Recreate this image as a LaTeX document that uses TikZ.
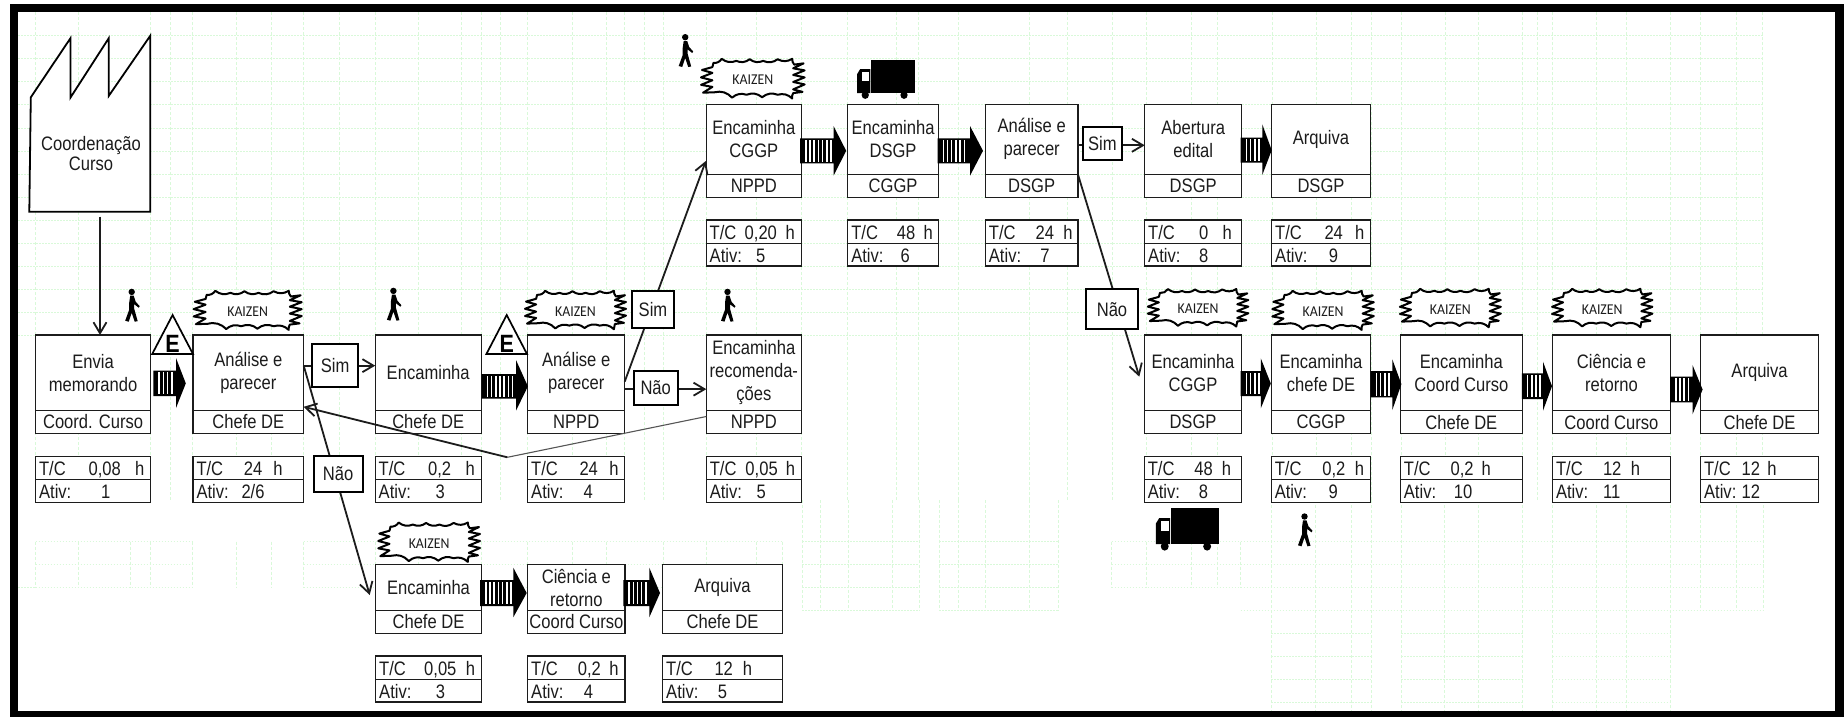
\documentclass[tikz,border=0pt]{standalone}
\usepackage{fontspec}
\setmainfont[FakeStretch=0.85]{Liberation Sans}
\newfontfamily\efont[FakeStretch=0.86]{Liberation Sans}
\newfontfamily\kzfont[FakeStretch=0.92]{Carlito}
\usetikzlibrary{arrows.meta,calc}
\definecolor{gridgreen}{HTML}{D9F9D9}
\definecolor{ink}{HTML}{1C1C1C}
\tikzset{
  proc/.style={draw=ink,fill=white,line width=1.2pt,inner sep=0pt,outer sep=0pt,anchor=north west,align=center,text=ink,font=\fontsize{19.5}{23}\selectfont},
  rowtext/.style={inner sep=0pt,outer sep=0pt,anchor=base west,text=ink,font=\fontsize{19.5}{23}\selectfont},
  decide/.style={draw=black,fill=white,line width=2pt,inner sep=0pt,outer sep=0pt,anchor=north west,text=ink,font=\fontsize{19.5}{23}\selectfont},
  conn/.style={line width=1.8pt,draw=ink},
  connarrow/.style={conn,-{Straight Barb[length=11pt,width=13pt,line width=1.8pt]}},
  gridv/.style={draw=gridgreen,line width=0.8pt,dash pattern=on 3pt off 2pt},
  gridh/.style={draw=gridgreen,line width=0.8pt,dash pattern=on 1.5pt off 1.5pt},
  burstline/.style={draw=black,fill=white,line width=2pt,line join=round},
  kztext/.style={inner sep=0pt,text=ink,font=\kzfont\fontsize{15}{15}\selectfont},
}
% process box: name, x1, x2, top, divider, bottom, text, label
\newcommand\procbox[8]{%
  \node[proc,minimum width={(#3-#2)*1pt},minimum height={(#5-#4)*1pt}] (#1) at (#2,#4) {#7};
  \node[proc,minimum width={(#3-#2)*1pt},minimum height={(#6-#5)*1pt}] (#1L) at (#2,#5) {#8};
}
% metrics box: name, x1, x2, top, mid, bottom, a, value, b, c, activity no
\newcommand\metrics[9]{%
  \node[proc,minimum width={(#3-#2)*1pt},minimum height={(#5-#4)*1pt}] (#1T) at (#2,#4) {};
  \node[proc,minimum width={(#3-#2)*1pt},minimum height={(#6-#5)*1pt}] (#1A) at (#2,#5) {};
  \node[rowtext] (#1Tt) at ($(#2+3.5,#4+19)$) {\rlap{T/C}\hspace*{#7pt}\rlap{#8}\hspace*{\dimexpr#9pt-#7pt\relax}h};
  \metricsB{#1}{#2}{#5}%
}
\newcommand\metricsB[5]{%
  \node[rowtext] (#1At) at ($(#2+3.5,#3+19)$) {\rlap{Ativ:}\hspace*{#4pt}#5};
}
\newcommand\push[7]{%
  \fill[black] (#1,#4) -- (#2,#4) -- (#2,#6) -- (#3,{(#4+#5)/2}) -- (#2,#7) -- (#2,#5) -- (#1,#5) -- cycle;
  \pgfmathsetmacro\xa{#1+5}\pgfmathsetmacro\xb{#1+9.2}\pgfmathsetmacro\xc{#2-2.5}
  \foreach \s in {\xa,\xb,...,\xc} {\fill[white] (\s,#4+1.6) rectangle (\s+1.5,#5-1.6);}
}
\newcommand\walker[2]{%
  \begin{scope}[shift={(#1-7,#2)}]
    \fill[black] (7,3.2) circle (3.2pt);
    \fill[black] (5.5,7) -- (9,7) -- (11,13) -- (15,17.5) -- (14,19) -- (9.5,15.5) -- (9.5,20) -- (13,32.5) -- (10,33) -- (7,24) -- (4,33) -- (0.5,32) -- (4.5,21) -- (4.5,14) -- cycle;
  \end{scope}
}
\newcommand\lorry[4]{%
  \pgfmathsetmacro\W{(#3-#1)/57}\pgfmathsetmacro\H{(#4-#2)/39}
  \begin{scope}[shift={(#1,#2)},x=\W pt,y=-\H pt]
    \fill[black] (14,0) rectangle (57,33);
    \fill[black] (0,33) -- (0,14) -- (3,9) -- (13,9) -- (13,33) -- cycle;
    \fill[white] (4.5,12) rectangle (11.5,20.5);
    \fill[black] (8,35) circle [x radius=3.6,y radius=3.9];
    \fill[black] (46.5,35) circle [x radius=3.6,y radius=3.9];
  \end{scope}
}
\newcommand\kaizen[5]{%
  \pgfmathsetmacro\W{#4-#2}\pgfmathsetmacro\H{#5-#3}
  \begin{scope}[shift={(#2,#3)},x=\W pt,y=-\H pt]
    \draw[burstline] (.12,.12)
      to[bend right=30] (.20,.02) to[bend right=30] (.34,.07) to[bend right=30] (.47,.03)
      to[bend right=30] (.60,.07) to[bend right=30] (.74,.03) to[bend right=30] (.88,.02)
      to[bend right=20] (.90,.16) -- (.99,.13) -- (.89,.25) -- (1,.30) -- (.89,.41) -- (1,.47)
      -- (.89,.58) -- (1,.64) -- (.89,.76) -- (.98,.82) -- (.89,.85)
      to[bend right=20] (.88,.98) to[bend right=30] (.74,.89) to[bend right=30] (.59,.95)
      to[bend right=30] (.44,.89) to[bend right=30] (.30,.96) to[bend right=30] (.13,.83)
      -- (.02,.84) -- (.11,.70) -- (0,.65) -- (.11,.54) -- (0,.47) -- (.11,.36) -- (.01,.29)
      -- (.11,.22) -- cycle;
    \node[kztext] (#1) at (.5,.53) {KAIZEN};
  \end{scope}
}
\newcommand\etri[3]{%
  \draw[black,fill=white,line width=1.7pt,line join=miter] (#2,354) -- (#3,354) -- ({(#2+#3)/2},315) -- cycle;
  \node[inner sep=0pt,anchor=base,font=\efont\bfseries\fontsize{25}{25}\selectfont] (#1) at ({(#2+#3)/2},352.5) {E};
}
\begin{document}
\begin{tikzpicture}[x=1pt,y=-1pt]
\useasboundingbox (0,0) rectangle (1847,716);
\fill[white] (0,0) rectangle (1847,716);
% background grid
\foreach \v in {35.6,78,150,170,192.5,236,271,303.6,339,375.5,418,461.7,481,500,527,572,606,624,644,663,706,756,801,847,896,918,958,1029,1067,1112,1146,1191,1217,1272,1316,1351,1371,1401,1445,1478,1522.3,1537.3,1552.7,1596.7,1626.7,1670.7,1700.7,1736.7,1762.7}
  {\draw[gridv] (\v,12) -- (\v,500);}
\foreach \h in {35,58,81,104,128,151,174,197,220,243,266,289,312,335}
  {\draw[gridh] (18,\h) -- (1762.7,\h);}
% lower grid blocks
\foreach \h in {541.7,564.3,587.3} {
  \draw[gridh] (35.6,\h) -- (192.5,\h);
  \draw[gridh] (303.6,\h) -- (782.7,\h);
}
\draw[gridh] (18,587.3) -- (35.6,587.3);
\foreach \v in {35.6,78,130,150,192.5,236,271,303.6,375.5,418,481,527,572,606,663,706,756,782.7}
  {\draw[gridv] (\v,541.7) -- (\v,587.3);}
\foreach \h in {541.7,564.3,587.3,610.3} {
  \draw[gridh] (802,\h) -- (918.9,\h);
  \draw[gridh] (939,\h) -- (1058.4,\h);
}
\foreach \v in {802,820,848,892,918.9,939,958,985.6,1029.7,1058.4}
  {\draw[gridv] (\v,500) -- (\v,610.3);}
\foreach \h in {541.7,564.3,587.3} {\draw[gridh] (1111.8,\h) -- (1762.9,\h);}
\draw[gridh] (1240.7,610.3) -- (1762.9,610.3);
\foreach \v in {1111.8,1146,1191,1217,1240.7}{\draw[gridv] (\v,541.7) -- (\v,587.3);}
\foreach \v in {1700.7,1736.7,1762.9}{\draw[gridv] (\v,500) -- (\v,610.3);}
\foreach \h in {633.3,656.3,679.3,702.3} {
  \draw[gridh] (1271.4,\h) -- (1371,\h);
  \draw[gridh] (1401,\h) -- (1522.5,\h);
  \draw[gridh] (1552.5,\h) -- (1670,\h);
}
\foreach \v in {1271.4,1315.5,1351.5,1371,1401,1444,1478,1522.5,1552.5,1596,1626.7,1670}
  {\draw[gridv] (\v,500) -- (\v,711);}
% frame
\draw[black,line width=8.3pt,line join=miter] (14.2,8) rectangle (1839.5,715);
% factory
\draw[black,fill=white,line width=1.8pt,line join=miter] (29.3,211.7) -- (30.8,97.3) -- (70.4,38.3) -- (70.4,97.7) -- (108.7,38.3) -- (108.7,96) -- (150.3,35.7) -- (150.3,211.7) -- cycle;
\node[inner sep=0pt,align=center,text=ink,font=\fontsize{19.5}{20.5}\selectfont] (factory) at (91,153.5) {Coordenação\\Curso};
\coordinate (factoryEnd) at (100,216.7);
% process boxes: lower main row
\procbox{envia}{35.6}{150.6}{335}{410.3}{433.7}{Envia\\memorando}{Coord. Curso}
\procbox{anA}{193}{303.7}{335}{410.3}{433.7}{Análise e\\parecer}{Chefe DE}
\procbox{encA}{375.2}{481.2}{335}{410.3}{433.7}{Encaminha}{Chefe DE}
\procbox{anB}{527.7}{624.7}{335}{410.3}{433.7}{Análise e\\parecer}{NPPD}
\procbox{rec}{706.3}{801.3}{335}{410.3}{433.7}{Encaminha\\recomenda-\\ções}{NPPD}
% top row
\procbox{encC}{706.2}{801.5}{104.3}{174.3}{197.3}{Encaminha\\CGGP}{NPPD}
\procbox{encD}{847.8}{938.3}{104.3}{174.3}{197.3}{Encaminha\\DSGP}{CGGP}
\procbox{anC}{985.4}{1077.9}{104.3}{174.3}{197.3}{Análise e\\parecer}{DSGP}
\procbox{abe}{1144.7}{1241.7}{104.3}{174.3}{197.3}{Abertura\\edital}{DSGP}
\procbox{arqA}{1271.7}{1370.3}{104.3}{174.3}{197.3}{Arquiva}{DSGP}
% right row
\procbox{encE}{1144.3}{1241.7}{335}{410.5}{433.7}{Encaminha\\CGGP}{DSGP}
\procbox{encF}{1271.3}{1370.7}{335}{410.5}{433.7}{Encaminha\\chefe DE}{CGGP}
\procbox{encG}{1400.4}{1522.3}{335}{410.5}{433.7}{Encaminha\\Coord Curso}{Chefe DE}
\procbox{cieA}{1552.5}{1670.4}{335}{410.5}{433.7}{Ciência e\\retorno}{Coord Curso}
\procbox{arqB}{1700.6}{1818.5}{335}{410.5}{433.7}{Arquiva}{Chefe DE}
% bottom row
\procbox{encB}{375.7}{481.3}{564.7}{610.3}{633.3}{Encaminha}{Chefe DE}
\procbox{cieB}{527.7}{625}{564.7}{610.3}{633.3}{Ciência e\\retorno}{Coord Curso}
\procbox{arqC}{662.7}{782.3}{564.7}{610.3}{633.3}{Arquiva}{Chefe DE}
% metrics
\metrics{mEnvia}{35.6}{150.6}{456.3}{479.7}{502.3}{49.5}{0,08}{96}{62}{1}
\metrics{mAnA}{193}{303.7}{456.3}{479.7}{502.3}{47.5}{24}{77}{45}{2/6}
\metrics{mEncA}{375.2}{481.2}{456.3}{479.7}{502.3}{49.4}{0,2}{87}{57}{3}
\metrics{mAnB}{527.7}{624.7}{456.3}{479.7}{502.3}{48.3}{24}{78.3}{52.3}{4}
\metrics{mRec}{706.3}{801.3}{456.3}{479.7}{502.3}{35.7}{0,05}{76}{46.7}{5}
\metrics{mEncC}{706.2}{801.5}{220}{243.3}{266}{35}{0,20}{76}{46.4}{5}
\metrics{mEncD}{847.8}{938.3}{220}{243.3}{266}{45.5}{48}{72.4}{49.4}{6}
\metrics{mAnC}{985.4}{1077.9}{220}{243.3}{266}{46.7}{24}{74.4}{51.5}{7}
\metrics{mAbe}{1144.7}{1241.7}{220}{243.3}{266}{51}{0}{74.4}{51}{8}
\metrics{mArqA}{1271.7}{1370.3}{220}{243.3}{266}{49.3}{24}{80}{53.6}{9}
\metrics{mEncE}{1144.3}{1241.7}{456.3}{479.7}{502.3}{46.6}{48}{74}{51}{8}
\metrics{mEncF}{1271.3}{1370.7}{456.3}{479.7}{502.3}{47.6}{0,2}{80}{53.7}{9}
\metrics{mEncG}{1400.4}{1522.3}{456.3}{479.7}{502.3}{46.7}{0,2}{77.8}{50}{10}
\metrics{mCieA}{1552.5}{1670.4}{456.3}{479.7}{502.3}{47}{12}{74.8}{47}{11}
\metrics{mArqB}{1700.6}{1818.5}{456.3}{479.7}{502.3}{37.6}{12}{63.2}{37.6}{12}
\metrics{mEncB}{375.7}{481.3}{656}{679.3}{702}{45}{0,05}{86.7}{56.7}{3}
\metrics{mCieB}{527.7}{625}{656}{679.3}{702}{46.6}{0,2}{78.3}{52.6}{4}
\metrics{mArqC}{662.7}{782.3}{656}{679.3}{702}{48.3}{12}{76.6}{51.6}{5}
% push arrows
\push{153.4}{176}{185.8}{370.7}{396}{358}{408}
\push{481.6}{516}{527.9}{374}{398.7}{360}{410.7}
\push{800}{833.5}{846.2}{138.3}{163.3}{126}{175.7}
\push{937.5}{970}{983}{138.3}{163.3}{126}{175.7}
\push{1240.7}{1262.3}{1271.7}{137.7}{162.7}{124.3}{175}
\push{1240.7}{1260.8}{1270.8}{371}{396}{358.3}{408.3}
\push{1370.7}{1392.3}{1401.4}{371}{397.3}{359.3}{410}
\push{1521.8}{1543}{1552}{373.3}{399}{361.7}{410.7}
\push{1670}{1692.5}{1702.6}{376.7}{402.3}{365}{414.3}
\push{480}{513.3}{526.7}{580}{606}{567.7}{617.3}
\push{623.3}{649.3}{660}{580}{606}{567.7}{617.3}
% E triangles
\etri{eA}{152.2}{193}
\etri{eB}{486.4}{527}
% kaizen bursts
\kaizen{kzA}{193.7}{290}{301.7}{330.7}
\kaizen{kzB}{525}{290}{626}{330}
\kaizen{kzC}{701}{58}{804.6}{99.3}
\kaizen{kzD}{1147.8}{288.3}{1248.3}{327.3}
\kaizen{kzE}{1272.3}{290}{1373.8}{330.7}
\kaizen{kzF}{1399.9}{288}{1500.8}{328}
\kaizen{kzG}{1552}{288}{1652.4}{328}
\kaizen{kzH}{378.3}{521.7}{480}{562.7}
% walkers and lorries
\walker{131.7}{288.7}
\walker{393.4}{287.7}
\walker{685.2}{34}
\walker{727.5}{288.7}
\walker{1304.5}{513.3}
\lorry{857.2}{60}{914.6}{99}
\lorry{1155.9}{508.3}{1218.7}{550.7}
% connectors
\coordinate (kink) at (507.3,457.3);
\coordinate (tipB) at (369.7,595);
\coordinate (tipC) at (705.8,161);
\coordinate (tipE) at (1139.3,376.7);
\draw[connarrow] (factoryEnd) -- (envia.north -| factoryEnd);
\draw[connarrow] ([yshift=7pt]anA.east) -- ([yshift=7pt]encA.west);
\draw[connarrow] ([yshift=7pt]anA.east) -- (tipB);
\draw[draw=ink!75,line width=1.1pt] ([yshift=5.5pt]recL.west) -- (kink);
\draw[connarrow] (kink) -- ([yshift=3.5pt]anA.south east);
\draw[connarrow] ([yshift=-9pt]anB.east) -- (tipC);
\draw[connarrow] ([yshift=-16.5pt]anB.east) -- ([yshift=-16.5pt]rec.west);
\draw[connarrow] ([yshift=-6pt]anC.east) -- ([yshift=-6pt]abe.west);
\draw[connarrow] (anC.south east) -- (tipE);
% decision boxes
\node[decide,minimum width=45.4pt,minimum height=42.4pt] (simA) at (312.4,344.3) {Sim};
\node[decide,minimum width=49pt,minimum height=36pt] (naoA) at (313.6,456) {Não};
\node[decide,minimum width=41.4pt,minimum height=37pt] (simB) at (632.3,290.7) {Sim};
\node[decide,minimum width=44pt,minimum height=34pt] (naoB) at (633.7,370.7) {Não};
\node[decide,minimum width=39.4pt,minimum height=33.6pt] (simC) at (1082.6,126.7) {Sim};
\node[decide,minimum width=52pt,minimum height=40pt] (naoC) at (1086,289.3) {Não};
\end{tikzpicture}
\end{document}
